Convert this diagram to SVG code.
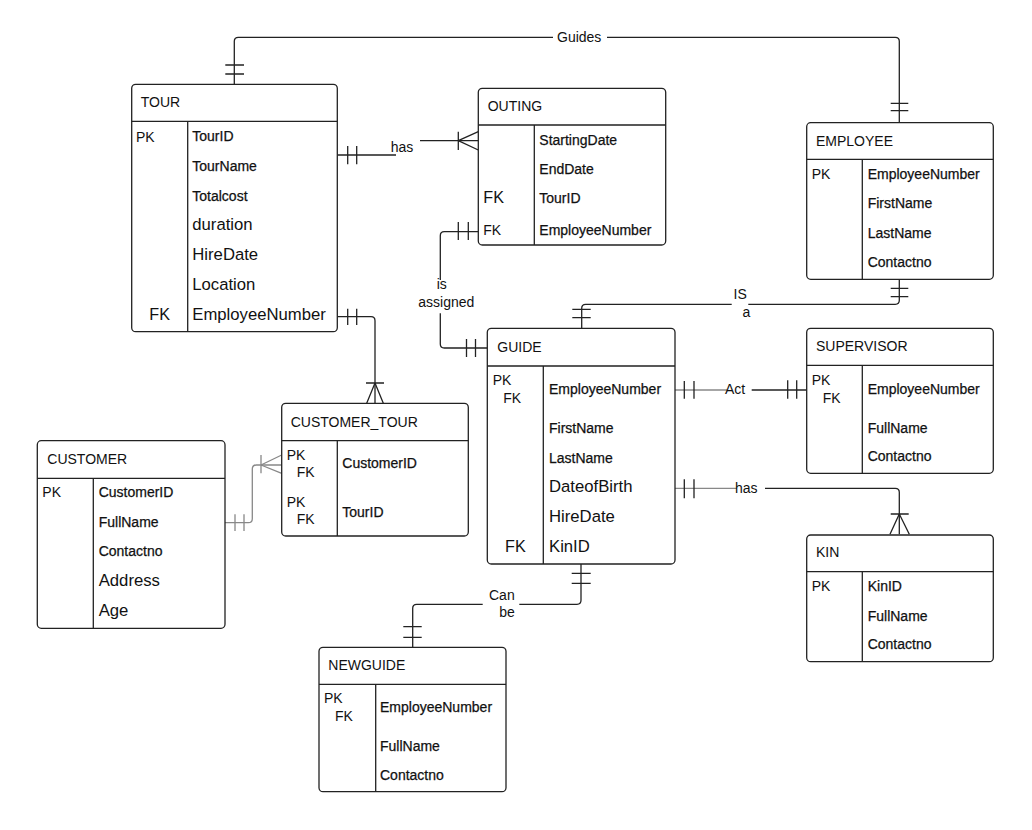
<svg xmlns="http://www.w3.org/2000/svg" width="1032" height="830" viewBox="0 0 1032 830">
<style>
text{font-family:"Liberation Sans",Arial,sans-serif;fill:#111;}
.t{font-size:14px;}
.k{font-size:14px;}
.kb{font-size:16.2px;}
.a{font-size:14px;stroke:#111;stroke-width:0.25;}
.b{font-size:16.7px;}
.l{font-size:14px;}
.box{fill:#fff;stroke:#222;stroke-width:1.3;}
.div{stroke:#222;stroke-width:1.3;fill:none;}
.c{stroke:#222;stroke-width:1.3;fill:none;}
.g{stroke:#888;stroke-width:1.3;fill:none;}
</style>
<rect width="1032" height="830" fill="#fff"/>
<g id="connectors">
<!-- Guides -->
<path class="c" d="M234.3,84.3 V41.3 Q234.3,37.3 238.3,37.3 H553 M607,37.3 H895.3 Q899.3,37.3 899.3,41.3 V122.7"/>
<path class="c" d="M225.3,65 H244 M225.3,74 H244 M890.7,103.3 H908.3 M890.7,110.7 H908.3"/>
<text class="l" x="557" y="42">Guides</text>
<!-- has TOUR-OUTING -->
<path class="c" d="M337.3,155 H396 M420,140.7 H478.3"/>
<path class="c" d="M347.7,146 V164.3 M356.7,146 V164.3"/>
<path class="c" d="M458.3,131.7 V150 M458.3,140.7 L478.3,131.7 M458.3,140.7 L478.3,150"/>
<text class="l" x="390.7" y="151.7">has</text>
<!-- is assigned -->
<path class="c" d="M478.3,231.7 H444.3 Q440.3,231.7 440.3,235.7 V280 M440.3,313.3 V344 Q440.3,348 444.3,348 H487.3"/>
<path class="c" d="M458.3,222 V240 M468.3,222 V240 M466.5,339 V357 M475.5,339 V357"/>
<text class="l" x="436.7" y="289.3">is</text>
<text class="l" x="418.3" y="306.7">assigned</text>
<!-- IS a -->
<path class="c" d="M899.3,279.3 V300.3 Q899.3,304.3 895.3,304.3 H748.3 M731.7,304.3 H585.7 Q581.7,304.3 581.7,308.3 V328.3"/>
<path class="c" d="M890.7,288.3 H908.3 M890.7,296.7 H908.3 M572.3,309.3 H590.7 M572.3,317.7 H590.7"/>
<text class="l" x="733.5" y="299.3">IS</text>
<text class="l" x="742.5" y="316.7">a</text>
<!-- Act -->
<path class="g" d="M675,390 H727"/>
<path class="c" d="M751.7,390 H806.7"/>
<path class="c" d="M684.3,381 V398.7 M694,381 V398.7 M787.7,380.3 V398.7 M796.7,380.3 V398.7"/>
<text class="l" x="725" y="394">Act</text>
<!-- has GUIDE-KIN -->
<path class="g" d="M675,488.3 H737"/>
<path class="c" d="M765,488.3 H895.3 Q899.3,488.3 899.3,492.3 V534.3"/>
<path class="c" d="M684.3,479.3 V498.3 M694,479.3 V498.3"/>
<path class="c" d="M890.7,514 H908.7 M899.3,514 L890,534.3 M899.3,514 L909.3,534.3"/>
<text class="l" x="735" y="492.7">has</text>
<!-- Can be -->
<path class="c" d="M581,564 V600.3 Q581,604.3 577,604.3 H519.3 M482.7,604.3 H416.7 Q412.7,604.3 412.7,608.3 V647.3"/>
<path class="c" d="M571.7,573.3 H590.7 M571.7,583.3 H590.7 M403.3,626.7 H421.7 M403.3,637.3 H421.7"/>
<text class="l" x="489" y="600">Can</text>
<text class="l" x="499.3" y="617.3">be</text>
<!-- CUSTOMER - CUSTOMER_TOUR -->
<path class="g" d="M225,522.7 H248.3 Q252.3,522.7 252.3,518.7 V469 Q252.3,465 256.3,465 H281.7"/>
<path class="g" d="M235,514.3 V531 M244,514.3 V531 M261,455 V473.3 M261,465 L281.7,455 M261,465 L281.7,473.3"/>
<!-- TOUR - CUSTOMER_TOUR -->
<path class="c" d="M337.3,316.7 H371 Q375,316.7 375,320.7 V403.3"/>
<path class="c" d="M347.7,308.7 V325 M356.7,308.7 V325 M366,383 H384 M375,383 L366.7,403.3 M375,383 L383.3,403.3"/>
</g>
<g id="TOUR">
<rect class="box" x="131.7" y="84.3" width="205.6" height="247.4" rx="4"/>
<path class="div" d="M131.7,121.3 H337.3 M187.7,121.3 V331.7"/>
<text class="t" x="140.7" y="107">TOUR</text>
<text class="k" x="136" y="141.5">PK</text>
<text class="a" x="192.3" y="141">TourID</text>
<text class="a" x="192.3" y="171">TourName</text>
<text class="a" x="192.3" y="200.7">Totalcost</text>
<text class="b" x="192.3" y="230">duration</text>
<text class="b" x="192.3" y="260">HireDate</text>
<text class="b" x="192.3" y="290">Location</text>
<text class="kb" x="149.3" y="320">FK</text>
<text class="b" x="192.3" y="320">EmployeeNumber</text>
</g>
<g id="OUTING">
<rect class="box" x="478.3" y="88.3" width="187.4" height="156.7" rx="4"/>
<path class="div" d="M478.3,125 H665.7 M534.3,125 V245"/>
<text class="t" x="487.7" y="111">OUTING</text>
<text class="a" x="539.3" y="145">StartingDate</text>
<text class="a" x="539.3" y="174.3">EndDate</text>
<text class="kb" x="483.3" y="203.3">FK</text>
<text class="a" x="539.3" y="203.3">TourID</text>
<text class="k" x="483.3" y="235">FK</text>
<text class="a" x="539.3" y="235">EmployeeNumber</text>
</g>
<g id="EMPLOYEE">
<rect class="box" x="806.7" y="122.7" width="186.6" height="156.6" rx="4"/>
<path class="div" d="M806.7,159.3 H993.3 M862.3,159.3 V279.3"/>
<text class="t" x="816" y="146">EMPLOYEE</text>
<text class="k" x="811.7" y="179.3">PK</text>
<text class="a" x="867.7" y="179.3">EmployeeNumber</text>
<text class="a" x="867.7" y="208.3">FirstName</text>
<text class="a" x="867.7" y="238.3">LastName</text>
<text class="a" x="867.7" y="266.7">Contactno</text>
</g>
<g id="GUIDE">
<rect class="box" x="487.3" y="328.3" width="187.7" height="235.7" rx="4"/>
<path class="div" d="M487.3,366 H675 M543.3,366 V564"/>
<text class="t" x="497.3" y="351.7">GUIDE</text>
<text class="k" x="492.7" y="385">PK</text>
<text class="k" x="503.3" y="402.7">FK</text>
<text class="a" x="549" y="394">EmployeeNumber</text>
<text class="a" x="549" y="432.7">FirstName</text>
<text class="a" x="549" y="462.7">LastName</text>
<text class="b" x="549" y="491.7">DateofBirth</text>
<text class="b" x="549" y="521.7">HireDate</text>
<text class="kb" x="505" y="551.7">FK</text>
<text class="b" x="549" y="551.7">KinID</text>
</g>
<g id="SUPERVISOR">
<rect class="box" x="806.7" y="328.3" width="186.6" height="145" rx="4"/>
<path class="div" d="M806.7,365.3 H993.3 M862.3,365.3 V473.3"/>
<text class="t" x="816" y="351">SUPERVISOR</text>
<text class="k" x="811.7" y="385">PK</text>
<text class="k" x="822.7" y="402.7">FK</text>
<text class="a" x="867.7" y="394">EmployeeNumber</text>
<text class="a" x="867.7" y="432.7">FullName</text>
<text class="a" x="867.7" y="460.7">Contactno</text>
</g>
<g id="KIN">
<rect class="box" x="806.7" y="535" width="186.6" height="126.7" rx="4"/>
<path class="div" d="M806.7,571.7 H993.3 M862.3,571.7 V661.7"/>
<text class="t" x="816" y="557.3">KIN</text>
<text class="k" x="811.7" y="590.7">PK</text>
<text class="a" x="867.7" y="590.7">KinID</text>
<text class="a" x="867.7" y="620.7">FullName</text>
<text class="a" x="867.7" y="649.3">Contactno</text>
</g>
<g id="CUSTOMER_TOUR">
<rect class="box" x="281.7" y="403.3" width="186.6" height="132.7" rx="4"/>
<path class="div" d="M281.7,440.7 H468.3 M337.3,440.7 V536"/>
<text class="t" x="290.7" y="426.7">CUSTOMER_TOUR</text>
<text class="k" x="286.7" y="460">PK</text>
<text class="k" x="296.7" y="477.3">FK</text>
<text class="a" x="342.3" y="468.3">CustomerID</text>
<text class="k" x="286.7" y="507.3">PK</text>
<text class="k" x="296.7" y="524.3">FK</text>
<text class="a" x="342.3" y="516.7">TourID</text>
</g>
<g id="CUSTOMER">
<rect class="box" x="37.3" y="440.7" width="187.7" height="187.6" rx="4"/>
<path class="div" d="M37.3,478.3 H225 M93.3,478.3 V628.3"/>
<text class="t" x="47.3" y="464">CUSTOMER</text>
<text class="k" x="42.3" y="497.3">PK</text>
<text class="a" x="98.7" y="497.3">CustomerID</text>
<text class="a" x="98.7" y="527.3">FullName</text>
<text class="a" x="98.7" y="556">Contactno</text>
<text class="b" x="98.7" y="586">Address</text>
<text class="b" x="98.7" y="616">Age</text>
</g>
<g id="NEWGUIDE">
<rect class="box" x="319" y="647.3" width="187" height="144.4" rx="4"/>
<path class="div" d="M319,684.3 H506 M375.7,684.3 V791.7"/>
<text class="t" x="328.3" y="670">NEWGUIDE</text>
<text class="k" x="324" y="703.3">PK</text>
<text class="k" x="335" y="720.7">FK</text>
<text class="a" x="380" y="712.3">EmployeeNumber</text>
<text class="a" x="380" y="750.7">FullName</text>
<text class="a" x="380" y="780">Contactno</text>
</g>
</svg>
